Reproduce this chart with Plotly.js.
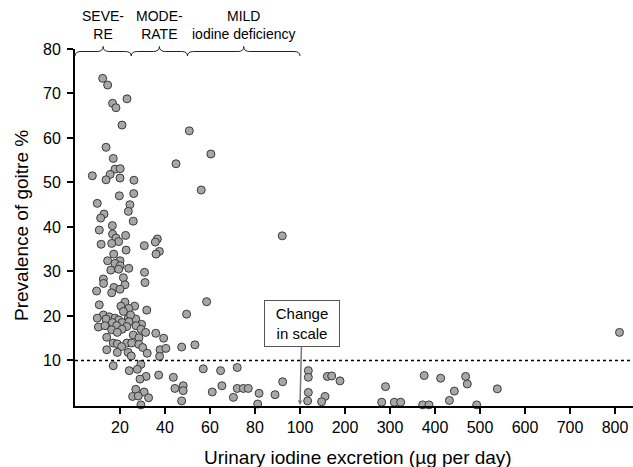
<!DOCTYPE html>
<html>
<head>
<meta charset="utf-8">
<script src="https://cdn.plot.ly/plotly-3.0.1.min.js"></script>
<style>html,body{margin:0;padding:0;background:#fff;}#chart{width:633px;height:467px;}</style>
</head>
<body>
<div id="chart"></div>
<script>
// Urinary iodine excretion (µg per day) and prevalence of goitre (%)
const iodine = [
12.3,14.5,23.1,16.7,18.2,20.9,50.8,13.8,60.4,17.0,44.9,17.8,20.1,7.7,15.6,13.8,20.0,26.2,56.1,19.7,26.1,9.9,24.4,12.9,23.7,11.4,25.9,
16.6,10.8,16.7,22.5,18.2,19.4,16.3,36.6,35.7,11.6,30.8,37.5,36.0,22.7,17.2,14.5,20.0,17.8,20.1,23.9,15.9,19.4,30.9,21.5,12.6,12.7,31.1,22.2,17.3,20.0,16.3,9.6,
58.5,22.2,10.8,20.4,26.5,23.9,31.9,21.5,49.6,12.6,15.2,9.9,13.8,17.8,19.4,23.7,27.0,24.7,16.6,20.9,24.0,29.6,10.4,13.3,18.5,23.0,27.1,16.3,20.9,29.3,18.8,31.4,35.9,25.9,14.1,28.4,39.4,
17.0,18.8,23.0,20.7,25.2,28.4,14.1,30.1,37.8,40.4,47.4,53.3,18.8,23.6,25.0,32.1,37.6,
17.0,29.3,57.0,64.7,72.1,24.1,27.7,37.2,31.6,43.7,28.9,48.1,44.4,48.1,27.0,30.7,25.6,28.1,32.7,47.4,65.3,61.0,70.4,72.1,74.8,77.0,81.8,29.3,81.2,
88.9,92.3,92.1,
118.5,118.5,118.5,117,160.7,170.4,188.9,155.6,148,290,281.5,309.6,323.7,376,372.6,386.7,412.6,443,432,468,471.8,492.6,538.5,810
];
const goitre = [
73.4,71.9,68.8,67.8,66.8,62.9,61.6,57.9,56.4,55.4,54.2,53.0,53.1,51.5,51.8,50.6,51.0,50.5,48.3,47.0,47.5,45.3,45.0,42.9,43.5,42.0,41.3,
40.3,39.3,38.4,38.1,37.5,36.7,36.3,37.3,36.6,36.1,35.8,34.5,33.9,34.8,33.9,32.4,32.4,31.8,31.3,30.7,30.3,30.5,29.8,28.6,28.3,27.3,27.5,27.0,26.4,26.0,25.2,25.6,
23.2,23.1,22.5,22.2,22.2,21.7,21.3,21.0,20.4,20.2,19.8,19.5,19.3,19.5,19.1,19.5,19.3,20.2,18.5,18.5,18.7,18.1,17.5,17.8,17.8,17.6,17.8,16.9,17.0,17.0,16.3,16.3,16.1,15.7,15.2,15.1,15.0,
13.9,13.7,13.9,13.1,13.9,13.6,12.4,12.9,12.4,12.7,13.0,13.5,11.8,11.8,11.0,11.6,10.9,
8.8,9.1,8.1,7.7,8.4,7.7,8.0,6.7,6.4,6.2,5.8,4.3,3.7,3.2,3.5,2.9,1.9,2.0,1.6,0.9,4.3,2.9,1.7,3.7,3.7,3.7,2.6,0,0.2,
2.3,5.2,38.0,
7.7,6.2,2.8,0.9,6.4,6.5,5.4,1.9,0.7,4.1,0.6,0.6,0.6,6.6,0,0,6.0,3.1,1.0,6.4,4.7,0,3.6,16.3
];
const lowTicks = [20, 40, 60, 80, 100];
const highTicks = [200, 300, 400, 500, 600, 700, 800];
const yTicks = [10, 20, 30, 40, 50, 60, 70, 80];
const braceRanges = [[0, 25], [25, 50], [50, 100]];
const braceLabels = ["SEVE-<br>RE", "MODE-<br>RATE", "MILD<br>iodine deficiency"];
const scaleBreak = 100;
const threshold = 10;

const W = 633, H = 467, ML = 75, MR = 0, MT = 49, MB = 61;
const plotW = W - ML - MR, plotH = H - MT - MB;
const splitPx = 300 - ML;            // pixel width of the 0..100 segment
const d = splitPx / plotW;           // domain split
const font = 'Liberation Sans, Arial, sans-serif';

const lowX = [], lowY = [], highX = [], highY = [];
iodine.forEach((v, i) => {
  if (v <= scaleBreak) { lowX.push(v); lowY.push(goitre[i]); }
  else { highX.push(v); highY.push(goitre[i]); }
});

const marker = {size: 8, color: '#a7a7a7', line: {color: '#3a3a3a', width: 1}};
const traces = [
  {type: 'scatter', mode: 'markers', x: lowX, y: lowY, xaxis: 'x', yaxis: 'y', marker, cliponaxis: false, hoverinfo: 'x+y'},
  {type: 'scatter', mode: 'markers', x: highX, y: highY, xaxis: 'x2', yaxis: 'y', marker, cliponaxis: false, hoverinfo: 'x+y'}
];

const axisCommon = {
  showline: true, linecolor: '#000', linewidth: 2, ticks: 'outside', ticklen: 6, tickwidth: 2, tickcolor: '#000',
  showgrid: false, zeroline: false, tickfont: {family: font, size: 16, color: '#000'}, fixedrange: true
};

// brace paths in paper coordinates
const px2paperY = py => (H - MB - py) / plotH;
const yEnd = px2paperY(56), yLine = px2paperY(51.5), yTip = px2paperY(46.5);
const c = 6 / plotW;
const shapes = braceRanges.map(([a, b]) => {
  const x0 = a / scaleBreak * d, x1 = b / scaleBreak * d, m = (x0 + x1) / 2;
  const path = `M ${x0},${yEnd} Q ${x0},${yLine} ${x0 + c},${yLine} L ${m - c},${yLine} Q ${m},${yLine} ${m},${yTip} ` +
               `Q ${m},${yLine} ${m + c},${yLine} L ${x1 - c},${yLine} Q ${x1},${yLine} ${x1},${yEnd}`;
  return {type: 'path', xref: 'paper', yref: 'paper', path, line: {color: '#222', width: 1}};
});
shapes.push({type: 'line', xref: 'paper', yref: 'y', x0: 0, x1: 1, y0: threshold, y1: threshold,
  line: {color: '#000', width: 1.5, dash: 'dot'}});

const annotations = braceRanges.map(([a, b], i) => ({
  xref: 'x', yref: 'paper', x: (a + b) / 2, y: px2paperY(25), xanchor: 'center', yanchor: 'middle',
  text: braceLabels[i], showarrow: false, font: {family: font, size: 14, color: '#000'}
}));
annotations.push({
  xref: 'x', yref: 'y', x: scaleBreak, y: 0, text: 'Change<br>in scale', showarrow: true,
  axref: 'pixel', ayref: 'pixel', ax: 2, ay: -81, arrowcolor: '#777', arrowwidth: 1.5, arrowhead: 2, arrowsize: 0.6,
  bordercolor: '#555', borderwidth: 1, borderpad: 4, bgcolor: '#fff', width: 66,
  font: {family: font, size: 15, color: '#000'}
});
annotations.push({
  xref: 'paper', yref: 'paper', x: (358 - ML) / plotW, y: px2paperY(457), xanchor: 'center', yanchor: 'middle',
  text: 'Urinary iodine excretion (µg per day)', showarrow: false, font: {family: font, size: 19, color: '#000'}
});
annotations.push({
  xref: 'paper', yref: 'paper', x: (21 - ML) / plotW, y: px2paperY(226), xanchor: 'center', yanchor: 'middle',
  textangle: -90, text: 'Prevalence of goitre %', showarrow: false, font: {family: font, size: 19, color: '#000'}
});

const layout = {
  width: W, height: H, margin: {l: ML, r: MR, t: MT, b: MB, pad: 0},
  paper_bgcolor: '#fff', plot_bgcolor: '#fff', showlegend: false,
  xaxis: Object.assign({}, axisCommon, {domain: [0, d], range: [0, scaleBreak], tickvals: lowTicks, ticktext: lowTicks.map(String), anchor: 'y'}),
  xaxis2: Object.assign({}, axisCommon, {domain: [d, 1], range: [scaleBreak, 840], tickvals: highTicks, ticktext: highTicks.map(String), anchor: 'y'}),
  yaxis: Object.assign({}, axisCommon, {range: [-0.25, 80], tickvals: yTicks, ticktext: yTicks.map(String), ticklabelstandoff: 3}),
  shapes, annotations
};

Plotly.newPlot('chart', traces, layout, {displayModeBar: false, staticPlot: true});
</script>
</body>
</html>
